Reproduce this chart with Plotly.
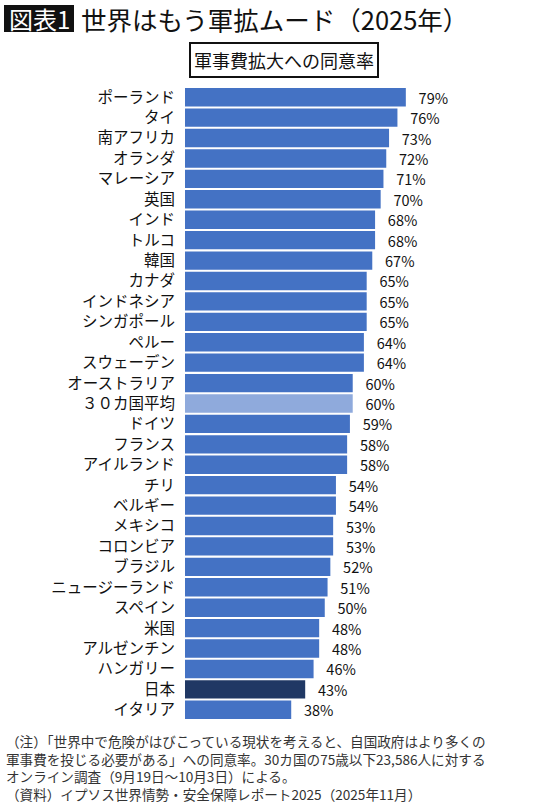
import plotly.graph_objects as go

# 国別の軍事費拡大への同意率（%）
countries = ['ポーランド', 'タイ', '南アフリカ', 'オランダ', 'マレーシア', '英国',
             'インド', 'トルコ', '韓国', 'カナダ', 'インドネシア', 'シンガポール',
             'ペルー', 'スウェーデン', 'オーストラリア', '３０カ国平均', 'ドイツ',
             'フランス', 'アイルランド', 'チリ', 'ベルギー', 'メキシコ', 'コロンビア',
             'ブラジル', 'ニュージーランド', 'スペイン', '米国', 'アルゼンチン',
             'ハンガリー', '日本', 'イタリア']
agree = [79, 76, 73, 72, 71, 70, 68, 68, 67, 65, 65, 65, 64, 64, 60, 60, 59,
         58, 58, 54, 54, 53, 53, 52, 51, 50, 48, 48, 46, 43, 38]

title_tag = '図表1'
title_text = '世界はもう軍拡ムード（2025年）'
subtitle = '軍事費拡大への同意率'
notes = ['（注）「世界中で危険がはびこっている現状を考えると、自国政府はより多くの',
         '軍事費を投じる必要がある」への同意率。30カ国の75歳以下23,586人に対する',
         'オンライン調査（9月19日～10月3日）による。',
         '（資料）イプソス世界情勢・安全保障レポート2025（2025年11月）']

FONT = 'Noto Sans CJK JP'
W, H = 540, 806
L, R, T, B = 185, 0, 87, 86

def px_x(px):
    return (px - L) / (W - L - R)

def px_y(py):
    return (H - B - py) / (H - T - B)

colors = []
for c in countries:
    if c == '日本':
        colors.append('#203864')
    elif c == '３０カ国平均':
        colors.append('#8faadc')
    else:
        colors.append('#4472c4')

fig = go.Figure()
fig.add_trace(go.Bar(
    x=agree, y=countries, orientation='h',
    marker=dict(color=colors, line=dict(width=0)),
    text=['\u00a0\u00a0\u00a0' + str(v) + '%' for v in agree],
    textposition='outside', cliponaxis=False, constraintext='none',
    textfont=dict(family=FONT, size=14.5, color='#111111'),
    hoverinfo='skip'
))

fig.update_layout(
    width=W, height=H,
    margin=dict(l=L, r=R, t=T, b=B),
    paper_bgcolor='white', plot_bgcolor='white',
    bargap=0.1, showlegend=False,
    font=dict(family=FONT, color='#111111'),
    xaxis=dict(range=[0, 127], visible=False, fixedrange=True),
    yaxis=dict(autorange='reversed', showgrid=False, showline=False,
               ticks='', ticklabelstandoff=9, fixedrange=True,
               tickfont=dict(family=FONT, size=15.5, color='#111111')),
)

# タイトル（黒地の見出しラベル＋本文）
fig.add_shape(type='rect', xref='paper', yref='paper',
              x0=px_x(4), x1=px_x(74), y0=px_y(32), y1=px_y(5),
              fillcolor='#111111', line=dict(width=0), layer='above')
fig.add_annotation(x=px_x(39), y=px_y(19), xref='paper', yref='paper',
                   xanchor='center', yanchor='middle', showarrow=False,
                   text=title_tag, font=dict(family=FONT, size=24, color='white'))
fig.add_annotation(x=px_x(79), y=px_y(19), xref='paper', yref='paper',
                   xanchor='left', yanchor='middle', showarrow=False,
                   text=title_text, font=dict(family=FONT, size=25.5, color='#111111'))
# 小見出し
fig.add_annotation(x=px_x(284), y=px_y(60.5), xref='paper', yref='paper',
                   xanchor='center', yanchor='middle', showarrow=False,
                   text=subtitle, bordercolor='#111111', borderwidth=2,
                   borderpad=3, font=dict(family=FONT, size=18, color='#111111'))
# 注記（4行をひとつの注釈に）
fig.add_annotation(x=px_x(5), y=px_y(767), xref='paper', yref='paper',
                   xanchor='left', yanchor='middle', align='left', showarrow=False,
                   borderpad=0, text='<br>'.join(notes),
                   font=dict(family=FONT, size=13.6, color='#333333'))

# ページ余白を消して図を左上にそろえる
fig.write_html("out.html", config={'displayModeBar': False},
               post_script="document.body.style.margin='0';")
